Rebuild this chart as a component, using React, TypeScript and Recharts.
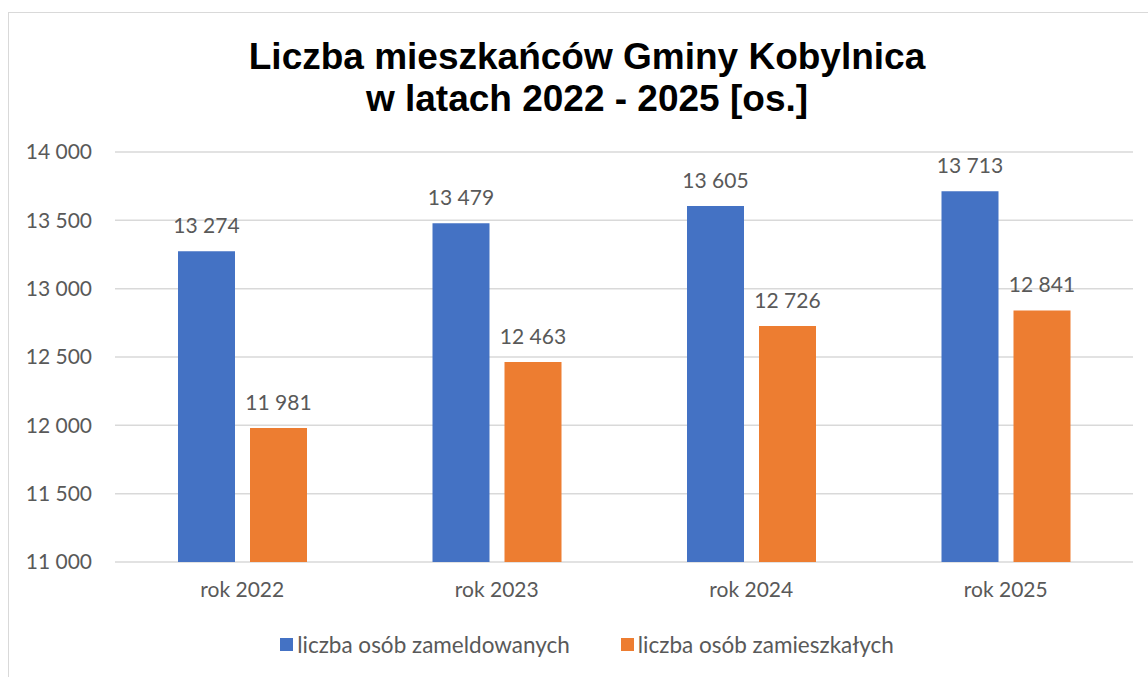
import { BarChart, Bar, XAxis, YAxis, CartesianGrid, LabelList } from "recharts";

// Liczba mieszkańców Gminy Kobylnica 2022–2025
const years = ["rok 2022", "rok 2023", "rok 2024", "rok 2025"];
const zameldowani = [13274, 13479, 13605, 13713];
const zamieszkali = [11981, 12463, 12726, 12841];
const yTicks = [11000, 11500, 12000, 12500, 13000, 13500, 14000];

const seriesNames = ["liczba osób zameldowanych", "liczba osób zamieszkałych"];
const colors = ["#4472C4", "#ED7D31"];

const data = years.map((year, i) => ({
  year,
  zameldowani: zameldowani[i],
  zamieszkali: zamieszkali[i],
}));

const FONT = "Lato, 'Open Sans', sans-serif";
const GRAY = "#595959";

function fmt(v: number | string): string {
  return String(v).replace(/\B(?=(\d{3})+(?!\d))/g, " ");
}

export default function App() {
  return (
    <div
      style={{
        position: "absolute",
        left: 8,
        top: 12,
        width: 1140,
        height: 665,
        boxSizing: "border-box",
        borderLeft: "1px solid #d9d9d9",
        borderTop: "1px solid #d9d9d9",
        background: "#fff",
        overflow: "hidden",
      }}
    >
      <div
        style={{
          position: "absolute",
          left: 0,
          top: 23,
          width: 1156,
          textAlign: "center",
          fontFamily: "'Liberation Sans', Arial, sans-serif",
          fontWeight: "bold",
          fontSize: 37,
          lineHeight: "42px",
          color: "#000",
        }}
      >
        Liczba mieszkańców Gminy Kobylnica
        <br />
        w latach 2022 - 2025 [os.]
      </div>
      <BarChart
        width={1139}
        height={664}
        data={data}
        margin={{ top: 139, right: 15, left: 0, bottom: 75 }}
        barGap={15}
        barSize={57}
      >
        <CartesianGrid vertical={false} stroke="#d9d9d9" strokeWidth={1.5} />
        <XAxis
          dataKey="year"
          axisLine={false}
          tickLine={false}
          tickSize={0}
          tickMargin={20}
          height={40}
          tick={{ fontSize: 21, fill: GRAY, fontFamily: FONT }}
        />
        <YAxis
          domain={[11000, 14000]}
          ticks={yTicks}
          width={106}
          axisLine={false}
          tickLine={false}
          tickSize={0}
          tickMargin={23}
          tickFormatter={fmt}
          tick={{ fontSize: 21, fill: GRAY, fontFamily: FONT }}
        />
        <Bar dataKey="zameldowani" fill={colors[0]} isAnimationActive={false}>
          <LabelList
            dataKey="zameldowani"
            position="top"
            offset={18}
            formatter={fmt}
            style={{ fontSize: 21, fill: GRAY, fontFamily: FONT }}
          />
        </Bar>
        <Bar dataKey="zamieszkali" fill={colors[1]} isAnimationActive={false}>
          <LabelList
            dataKey="zamieszkali"
            position="top"
            offset={18}
            formatter={fmt}
            style={{ fontSize: 21, fill: GRAY, fontFamily: FONT }}
          />
        </Bar>
      </BarChart>
      <div
        style={{
          position: "absolute",
          left: 0,
          top: 618,
          width: 1156,
          display: "flex",
          justifyContent: "center",
          gap: 51,
          fontFamily: FONT,
          fontSize: 22.5,
          color: GRAY,
        }}
      >
        {seriesNames.map((name, i) => (
          <div key={name} style={{ display: "flex", alignItems: "center" }}>
            <span
              style={{
                display: "inline-block",
                width: 13,
                height: 13,
                background: colors[i],
                marginRight: 4,
              }}
            />
            {name}
          </div>
        ))}
      </div>
    </div>
  );
}
